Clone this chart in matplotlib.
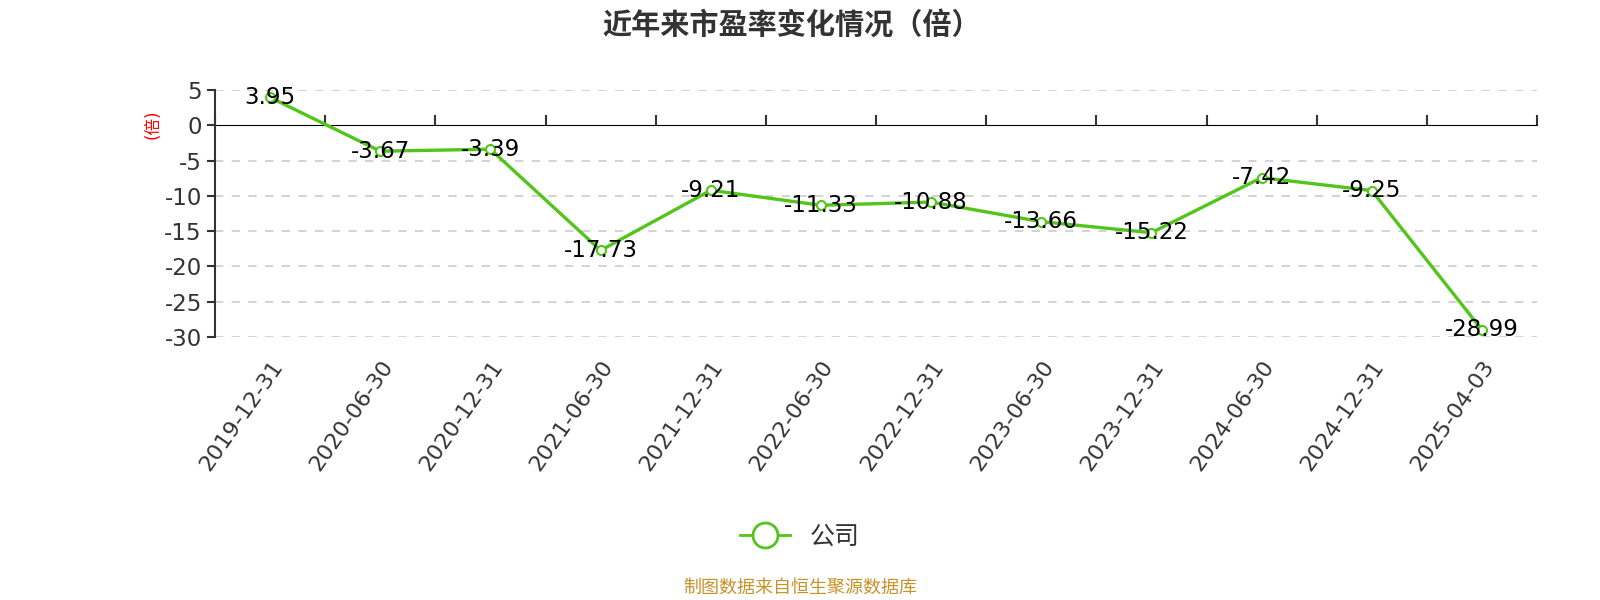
import matplotlib
matplotlib.use("Agg")
import matplotlib.pyplot as plt
from matplotlib.lines import Line2D

plt.rcParams['font.family'] = ['DejaVu Sans', 'Noto Sans CJK SC']
plt.rcParams['axes.unicode_minus'] = False

dates = ['2019-12-31', '2020-06-30', '2020-12-31', '2021-06-30', '2021-12-31', '2022-06-30',
         '2022-12-31', '2023-06-30', '2023-12-31', '2024-06-30', '2024-12-31', '2025-04-03']
pe = [3.95, -3.67, -3.39, -17.73, -9.21, -11.33, -10.88, -13.66, -15.22, -7.42, -9.25, -28.99]
yticks = [5, 0, -5, -10, -15, -20, -25, -30]

green = '#52c41a'
dark = '#333333'

fig = plt.figure(figsize=(16, 6), dpi=100)
ax = fig.add_axes([215/1600, 1-337/600, (1537-215)/1600, (337-90)/600])

x = list(range(len(dates)))
ax.plot(x, pe, color=green, lw=2.4, marker='o', ms=6.5, mfc='white', mec=green, mew=1.5, zorder=3)
for xi, v in zip(x, pe):
    ax.text(xi, v, f'{v:.2f}', ha='center', va='center', fontsize=16.5, color='black', zorder=4)

ymin, ymax = min(yticks), max(yticks)
ax.set_ylim(ymin, ymax)
ax.set_xlim(-0.5, len(dates)-0.5)
ax.set_yticks(yticks)
ax.tick_params(axis='y', labelsize=16.5, labelcolor=dark, color=dark, length=6, width=1.5)
for t in yticks:
    if t != 0:
        ax.axhline(t, color='#cccccc', lw=1.2, ls=(0, (5, 5)), zorder=1)

ax.set_xticks(x)
ax.set_xticklabels(dates, rotation=55, ha='right', va='top', rotation_mode='anchor', fontsize=16, color=dark)
ax.tick_params(axis='x', length=0, pad=14)

for s in ['top', 'right', 'bottom']:
    ax.spines[s].set_visible(False)
ax.spines['left'].set_color(dark)
ax.spines['left'].set_linewidth(1.5)

# category axis line at zero with boundary ticks
zero_ax = ax.secondary_xaxis((0 - ymin) / (ymax - ymin))
zero_ax.set_xticks([i - 0.5 for i in range(len(dates) + 1)])
zero_ax.set_xticklabels([])
zero_ax.tick_params(direction='out', length=7, width=1.5, color=dark)
zero_ax.spines['bottom'].set_color(dark)
zero_ax.spines['bottom'].set_linewidth(1.5)

fig.text(153/1600, 1-124/600, '(倍)', rotation=90, ha='center', va='center', fontsize=12, color='red')
fig.text(0.495, 1-25/600, '近年来市盈率变化情况（倍）', ha='center', va='center', fontsize=21,
         fontweight='bold', color=dark)

handle = Line2D([], [], color=green, lw=2, marker='o', ms=18, mfc='white', mec=green, mew=2)
fig.legend([handle], ['公司'], loc='center', bbox_to_anchor=(800/1600, 1-537/600), frameon=False,
           fontsize=18, handlelength=2.0, labelcolor=dark)

fig.text(0.5, 1-588/600, '制图数据来自恒生聚源数据库', ha='center', va='center', fontsize=13, color='#c8922a')

fig.savefig('out.png', dpi=100)
